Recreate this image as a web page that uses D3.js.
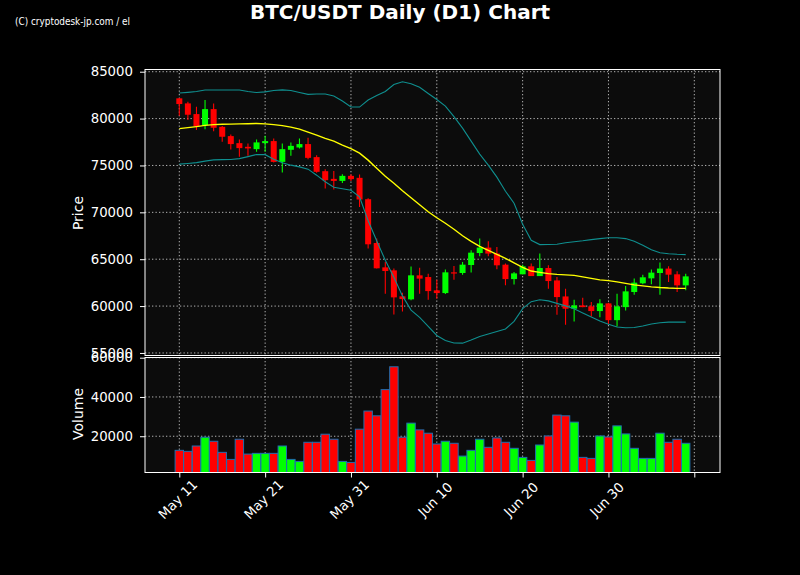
<!DOCTYPE html>
<html><head><meta charset="utf-8">
<script src="https://cdn.jsdelivr.net/npm/d3@7"></script>
<style>html,body{margin:0;background:#000;} svg{display:block;font-family:"DejaVu Sans",sans-serif;}</style>
</head><body>
<svg id="c" width="800" height="575"></svg>
<script>
// ---- data ----
const startDate = "2024-05-11";
const open  = [82160,81620,80480,79300,81010,79120,78130,77380,76990,76740,77380,77600,75380,76670,76920,77280,75890,74390,73570,73350,73890,73680,71400,66730,64130,63810,61040,60720,63280,63100,61680,61390,63600,63530,64380,65660,66240,65600,64420,62880,63390,64240,63200,64060,62740,61030,59720,60070,59970,59470,60290,58500,59890,61500,62430,62960,63530,64000,63390,62210];
const high  = [82200,81800,81260,81980,81620,79200,78310,77780,77350,77780,78160,77880,77350,77460,77880,77950,76100,74600,74420,74070,74070,74040,71500,67200,64700,64000,61430,64210,64100,63460,62820,63890,64270,64700,65950,67200,66910,66300,64530,63630,64420,64530,65600,64350,63100,61860,60680,60900,60430,60720,60360,61320,62140,62930,63350,63890,64640,64240,63710,63460];
const low   = [80300,79840,78770,78850,78660,77520,76710,75920,76030,76450,76450,75320,74250,76030,76820,75670,74210,72540,72440,73140,73350,70580,66130,64000,61320,59110,59430,60610,61320,60680,60790,61300,62820,63350,63570,65310,65310,63920,62210,62290,63390,63200,63200,61860,59080,58010,58360,59880,58900,58820,58080,57830,59540,61220,62320,62320,61220,62560,61500,61680];
const close = [81550,80410,79170,81010,79020,78060,77280,76850,76820,77460,77600,75380,76740,77090,77280,75810,74320,73430,73350,73890,73540,71370,66590,64030,63740,60930,60750,63280,62930,61600,61390,63600,63490,64420,65700,66240,65600,64350,62880,63490,64240,63200,64060,62670,60960,59720,60070,59890,59470,60290,58500,59970,61570,62500,63070,63570,64000,63350,62210,63170];
const volume = [12820,12300,15030,19490,17430,11790,8200,18460,10920,11280,11280,11280,15030,8200,7180,16920,16920,21030,18460,7180,6670,23590,32820,30410,43740,55380,19490,26670,23230,21540,16050,17430,16410,9900,12820,18460,14360,19130,16920,13850,9230,7690,15540,20150,30770,30410,27180,9230,8720,20150,19640,25280,21180,13850,8720,8720,21540,16920,18460,16410];
const ma20 = [78930,79040,79145,79270,79360,79390,79410,79430,79455,79476,79434,79359,79252,79092,78878,78557,78237,77884,77596,77169,76795,76314,75566,74711,73857,73109,72307,71560,70812,70064,69423,68835,68194,67500,66912,66378,65950,65523,65096,64615,64134,63739,63600,63461,63386,63333,63279,63119,62959,62799,62713,62585,62425,62264,62157,62051,61976,61923,61891,61891];
const bbUpper = [82724,82799,82885,83045,83045,83045,83045,83045,82885,82778,82852,82991,83066,82991,82778,82585,82617,82617,82404,81870,81229,81229,81976,82457,82885,83632,83921,83707,83333,82671,82030,81335,80214,78985,77596,76207,75032,73750,72254,70972,68728,67019,66559,66570,66592,66752,66859,66965,67094,67200,67286,67286,67200,66912,66485,66004,65683,65576,65523,65491];
const bbLower = [75139,75213,75299,75459,75598,75619,75641,75726,75940,76175,76154,75673,75299,75032,74850,74605,73963,73269,72681,72521,72361,71666,69102,66965,64882,63066,61089,59572,58792,57831,56869,56335,56068,56046,56388,56762,57029,57296,57564,58365,59722,60470,60683,60555,60288,60021,59722,59273,58846,58418,58066,57777,57692,57724,57884,58098,58226,58290,58290,58290];
const xTickDates  = ["2024-05-11","2024-05-21","2024-05-31","2024-06-10","2024-06-20","2024-06-30","2024-07-10"];
const xTickLabels = ["May 11","May 21","May 31","Jun 10","Jun 20","Jun 30",""];
const priceTicks  = [55000,60000,65000,70000,75000,80000,85000];
const volumeTicks = [20000,40000,60000];
const titleText = "BTC/USDT Daily (D1) Chart";
const creditText = "(C) cryptodesk-jp.com / el";

// ---- layout ----
const L = 145, R = 720, pTop = 69.5, pBot = 355.5, vTop = 357.5, vBot = 472.5;
const parse = d3.timeParse("%Y-%m-%d");
const t0 = parse(startDate);
const dates = open.map((_, i) => d3.timeDay.offset(t0, i));
const tickDates = xTickDates.map(parse);

const x = d3.scaleTime().domain([tickDates[0], tickDates[6]]).range([179.3, 694.3]);
const yP = d3.scaleLinear().domain([54730, 85235]).range([pBot, pTop]);
const yV = d3.scaleLinear().domain([1530, 60100]).range([vBot, vTop]);
const dayW = x(dates[1]) - x(dates[0]);

const svg = d3.select("#c");
svg.append("rect").attr("width", 800).attr("height", 575).attr("fill", "#000");

const defs = svg.append("defs");
defs.append("clipPath").attr("id", "cp").append("rect").attr("x", L).attr("y", pTop).attr("width", R - L).attr("height", pBot - pTop);
defs.append("clipPath").attr("id", "cv").append("rect").attr("x", L).attr("y", vTop).attr("width", R - L).attr("height", vBot - vTop);

// panel backgrounds
svg.append("rect").attr("x", L).attr("y", pTop).attr("width", R - L).attr("height", pBot - pTop).attr("fill", "#0c0c0c");
svg.append("rect").attr("x", L).attr("y", vTop).attr("width", R - L).attr("height", vBot - vTop).attr("fill", "#0c0c0c");

// grids
const gridStyle = g => g.attr("stroke", "#b4b4b4").attr("stroke-width", 1).attr("stroke-dasharray", "1.3,2.2");
const grid = svg.append("g");
grid.selectAll(".hp").data(priceTicks).join("line").attr("x1", L).attr("x2", R).attr("y1", d => yP(d)).attr("y2", d => yP(d)).call(gridStyle);
grid.selectAll(".hv").data(volumeTicks).join("line").attr("x1", L).attr("x2", R).attr("y1", d => yV(d)).attr("y2", d => yV(d)).call(gridStyle);
grid.selectAll(".vp").data(tickDates).join("line").attr("x1", d => x(d)).attr("x2", d => x(d)).attr("y1", pTop).attr("y2", pBot).call(gridStyle);
grid.selectAll(".vv").data(tickDates).join("line").attr("x1", d => x(d)).attr("x2", d => x(d)).attr("y1", vTop).attr("y2", vBot).call(gridStyle);

// candles
const up = "#00ff00", dn = "#ff0000";
const cg = svg.append("g").attr("clip-path", "url(#cp)");
const idx = d3.range(open.length);
cg.selectAll(".wick").data(idx).join("line")
  .attr("x1", i => x(dates[i])).attr("x2", i => x(dates[i]))
  .attr("y1", i => yP(high[i])).attr("y2", i => yP(low[i]))
  .attr("stroke", i => close[i] >= open[i] ? up : dn).attr("stroke-width", 1.1);
const bodyW = dayW * 0.7;
cg.selectAll(".body").data(idx).join("rect")
  .attr("x", i => x(dates[i]) - bodyW / 2).attr("width", bodyW)
  .attr("y", i => yP(Math.max(open[i], close[i])))
  .attr("height", i => Math.max(1.2, Math.abs(yP(open[i]) - yP(close[i]))))
  .attr("fill", i => close[i] >= open[i] ? up : dn);

// lines
const lineGen = arr => d3.line().x((d, i) => x(dates[i])).y(d => yP(d))(arr);
cg.append("path").attr("d", lineGen(bbUpper)).attr("fill", "none").attr("stroke", "#0f8f8f").attr("stroke-width", 1.1);
cg.append("path").attr("d", lineGen(bbLower)).attr("fill", "none").attr("stroke", "#0f8f8f").attr("stroke-width", 1.1);
cg.append("path").attr("d", lineGen(ma20)).attr("fill", "none").attr("stroke", "#ffff00").attr("stroke-width", 1.4);

// volume bars
const vg = svg.append("g").attr("clip-path", "url(#cv)");
const barW = dayW * 0.98;
vg.selectAll("rect").data(idx).join("rect")
  .attr("x", i => x(dates[i]) - barW / 2).attr("width", barW)
  .attr("y", i => yV(volume[i])).attr("height", i => vBot - yV(volume[i]))
  .attr("fill", i => close[i] >= open[i] ? up : dn)
  .attr("stroke", "#1f6fb0").attr("stroke-width", 1);

// frames
svg.append("rect").attr("x", L).attr("y", pTop).attr("width", R - L).attr("height", pBot - pTop).attr("fill", "none").attr("stroke", "#fff").attr("stroke-width", 1);
svg.append("rect").attr("x", L).attr("y", vTop).attr("width", R - L).attr("height", vBot - vTop).attr("fill", "none").attr("stroke", "#fff").attr("stroke-width", 1);

// axes
const styleAxis = g => {
  g.select(".domain").remove();
  g.selectAll(".tick line").attr("stroke", "#fff");
  g.selectAll(".tick text").attr("fill", "#fff").style("font-size", "13.3px").style("font-family", "DejaVu Sans, sans-serif");
};
svg.append("g").attr("transform", `translate(${L},0)`)
  .call(d3.axisLeft(yP).tickValues(priceTicks).tickSize(5).tickPadding(7).tickFormat(d3.format("d")))
  .call(styleAxis);
svg.append("g").attr("transform", `translate(${L},0)`)
  .call(d3.axisLeft(yV).tickValues(volumeTicks).tickSize(5).tickPadding(7).tickFormat(d3.format("d")))
  .call(styleAxis);
const xa = svg.append("g").attr("transform", `translate(0,${vBot})`)
  .call(d3.axisBottom(x).tickValues(tickDates).tickSize(5).tickFormat((d, i) => xTickLabels[i]))
  .call(styleAxis);
xa.selectAll(".tick text").attr("y", 0).attr("dy", "0.35em")
  .attr("transform", "translate(-2,27) rotate(-45)").style("text-anchor", "middle");

// labels
svg.append("text").attr("transform", "translate(83,213) rotate(-90)").attr("text-anchor", "middle")
  .attr("fill", "#fff").style("font-size", "14px").text("Price");
svg.append("text").attr("transform", "translate(83,414) rotate(-90)").attr("text-anchor", "middle")
  .attr("fill", "#fff").style("font-size", "14px").text("Volume");
svg.append("text").attr("x", 400).attr("y", 18.5).attr("text-anchor", "middle").attr("fill", "#fff")
  .style("font-size", "20px").style("font-weight", "bold").text(titleText);
svg.append("text").attr("x", 15).attr("y", 25).attr("fill", "#fff")
  .style("font-size", "10.5px").attr("textLength", 115).attr("lengthAdjust", "spacingAndGlyphs").text(creditText);
</script>
</body></html>
